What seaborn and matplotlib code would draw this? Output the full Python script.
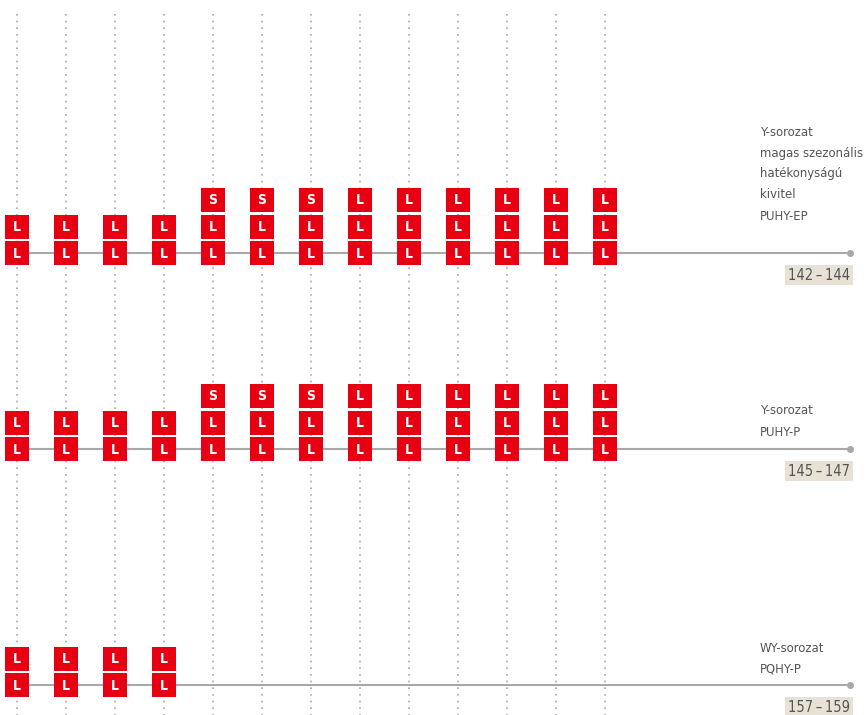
import matplotlib
matplotlib.use("Agg")
import matplotlib.pyplot as plt
import seaborn as sns
import pandas as pd

# --- data ---
series_names = ["PUHY-EP", "PUHY-P", "PQHY-P"]
series_labels = [
    ["Y-sorozat", "magas szezonális", "hatékonyságú", "kivitel", "PUHY-EP"],
    ["Y-sorozat", "PUHY-P"],
    ["WY-sorozat", "PQHY-P"],
]
range_labels = ["142\u2009\u2013\u2009144", "145\u2009\u2013\u2009147", "157\u2009\u2013\u2009159"]
n_columns = 13
stacks_ep = [["L", "L"]] * 4 + [["L", "L", "S"]] * 3 + [["L", "L", "L"]] * 6
stacks_p = [["L", "L"]] * 4 + [["L", "L", "S"]] * 3 + [["L", "L", "L"]] * 6
stacks_wy = [["L", "L"]] * 4 + [[]] * 9
all_stacks = [stacks_ep, stacks_p, stacks_wy]

# --- layout (pixels) ---
W, H = 866, 715
col0_px, col_step_px = 17, 49
baselines = [253, 449, 685]
level_step = 26.5
label_tops = [132, 411, 648]
label_step = 21
range_y = [275, 471, 707]
RED = "#e60012"
GREY = "#a8a8a8"
TEXT = "#555555"

sns.set_style("white")
plt.rcParams["font.family"] = ["DejaVu Sans"]
plt.rcParams["font.stretch"] = "condensed"

fig = plt.figure(figsize=(W / 100, H / 100), dpi=100)
ax = fig.add_axes([0, 0, 1, 1])
ax.set_xlim(-col0_px / col_step_px, (W - col0_px) / col_step_px)
ax.set_ylim(H, 0)
ax.axis("off")


def px_to_col(x):
    return (x - col0_px) / col_step_px


rows = []
for g, stacks in enumerate(all_stacks):
    for c, stack in enumerate(stacks):
        for lvl, letter in enumerate(stack):
            rows.append({"series": series_names[g], "col": c,
                         "y": baselines[g] - lvl * level_step, "letter": letter})
df = pd.DataFrame(rows)

# vertical dotted guides
ax.vlines(range(n_columns), 14, H, colors=GREY, linewidth=1.2,
          linestyles=(0, (1, 3)), zorder=1)

# series baselines with end dot
for g in range(len(series_names)):
    ax.plot([px_to_col(7), px_to_col(850)], [baselines[g]] * 2, color=GREY,
            linewidth=1.5, zorder=2)
    ax.plot([px_to_col(850)], [baselines[g]], "o", color=GREY, markersize=4, zorder=2)
    for i, line in enumerate(series_labels[g]):
        ax.text(px_to_col(760), label_tops[g] + i * label_step, line, fontsize=9.4,
                color=TEXT, ha="left", va="center", fontstretch="condensed")
    ax.text(px_to_col(850), range_y[g], range_labels[g], fontsize=10.5, color=TEXT,
            ha="right", va="center", fontstretch="condensed",
            bbox=dict(boxstyle="square,pad=0.2", facecolor="#e8e2d6", edgecolor="none"))

sns.scatterplot(data=df, x="col", y="y", marker="s", s=17 ** 2, color=RED,
                linewidth=0, ax=ax, zorder=3, legend=False)
for _, r in df.iterrows():
    ax.text(r["col"], r["y"] + 0.5, r["letter"], color="white", fontsize=10,
            fontweight="bold", ha="center", va="center", fontstretch="condensed", zorder=4)

ax.set_xlim(-col0_px / col_step_px, (W - col0_px) / col_step_px)
ax.set_ylim(H, 0)
fig.savefig("out.png", dpi=100)
